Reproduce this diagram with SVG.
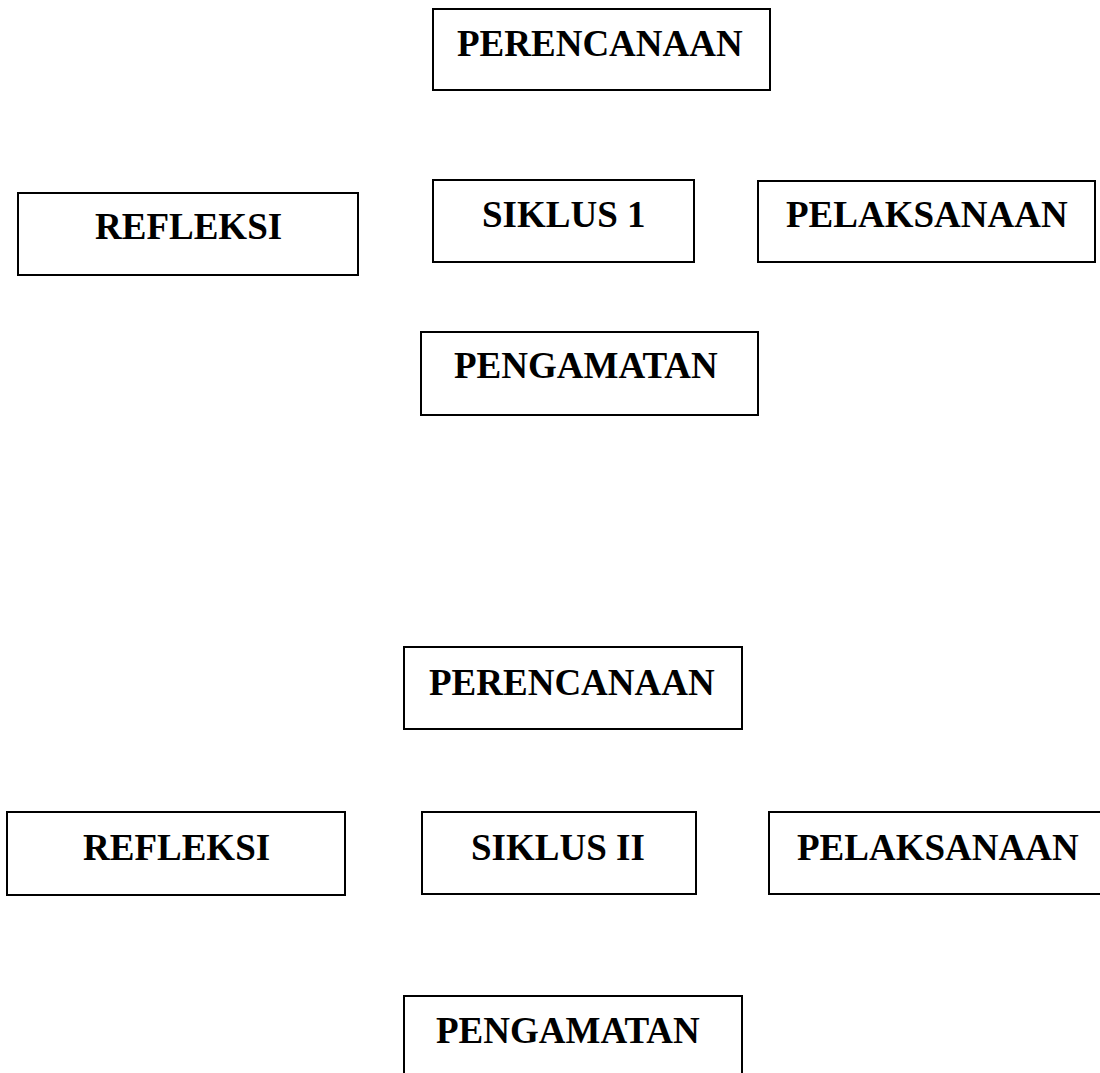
<svg xmlns="http://www.w3.org/2000/svg" width="1100" height="1073" viewBox="0 0 1100 1073">
<style>
.box{fill:#fff;stroke:#000;stroke-width:2}
.lbl{font-family:"Liberation Serif","Times New Roman",serif;font-weight:bold;font-size:37px;fill:#000}
</style>
<rect width="1100" height="1073" fill="#fff"/>
<g id="connectors"></g>
<g id="perencanaan1"><rect class="box" x="433" y="9" width="337" height="81"/><text class="lbl" x="457" y="56">PERENCANAAN</text></g>
<g id="refleksi1"><rect class="box" x="18" y="193" width="340" height="82"/><text class="lbl" x="95" y="239">REFLEKSI</text></g>
<g id="siklus1"><rect class="box" x="433" y="180" width="261" height="82"/><text class="lbl" x="482" y="227">SIKLUS 1</text></g>
<g id="pelaksanaan1"><rect class="box" x="758" y="181" width="337" height="81"/><text class="lbl" x="786" y="227">PELAKSANAAN</text></g>
<g id="pengamatan1"><rect class="box" x="421" y="332" width="337" height="83"/><text class="lbl" x="454" y="378">PENGAMATAN</text></g>
<g id="perencanaan2"><rect class="box" x="404" y="647" width="338" height="82"/><text class="lbl" x="429" y="695">PERENCANAAN</text></g>
<g id="refleksi2"><rect class="box" x="7" y="812" width="338" height="83"/><text class="lbl" x="83" y="860">REFLEKSI</text></g>
<g id="siklus2"><rect class="box" x="422" y="812" width="274" height="82"/><text class="lbl" x="471" y="860">SIKLUS II</text></g>
<g id="pelaksanaan2"><rect class="box" x="769" y="812" width="340" height="82"/><text class="lbl" x="797" y="860">PELAKSANAAN</text></g>
<g id="pengamatan2"><rect class="box" x="404" y="996" width="338" height="90"/><text class="lbl" x="436" y="1043">PENGAMATAN</text></g>
</svg>
